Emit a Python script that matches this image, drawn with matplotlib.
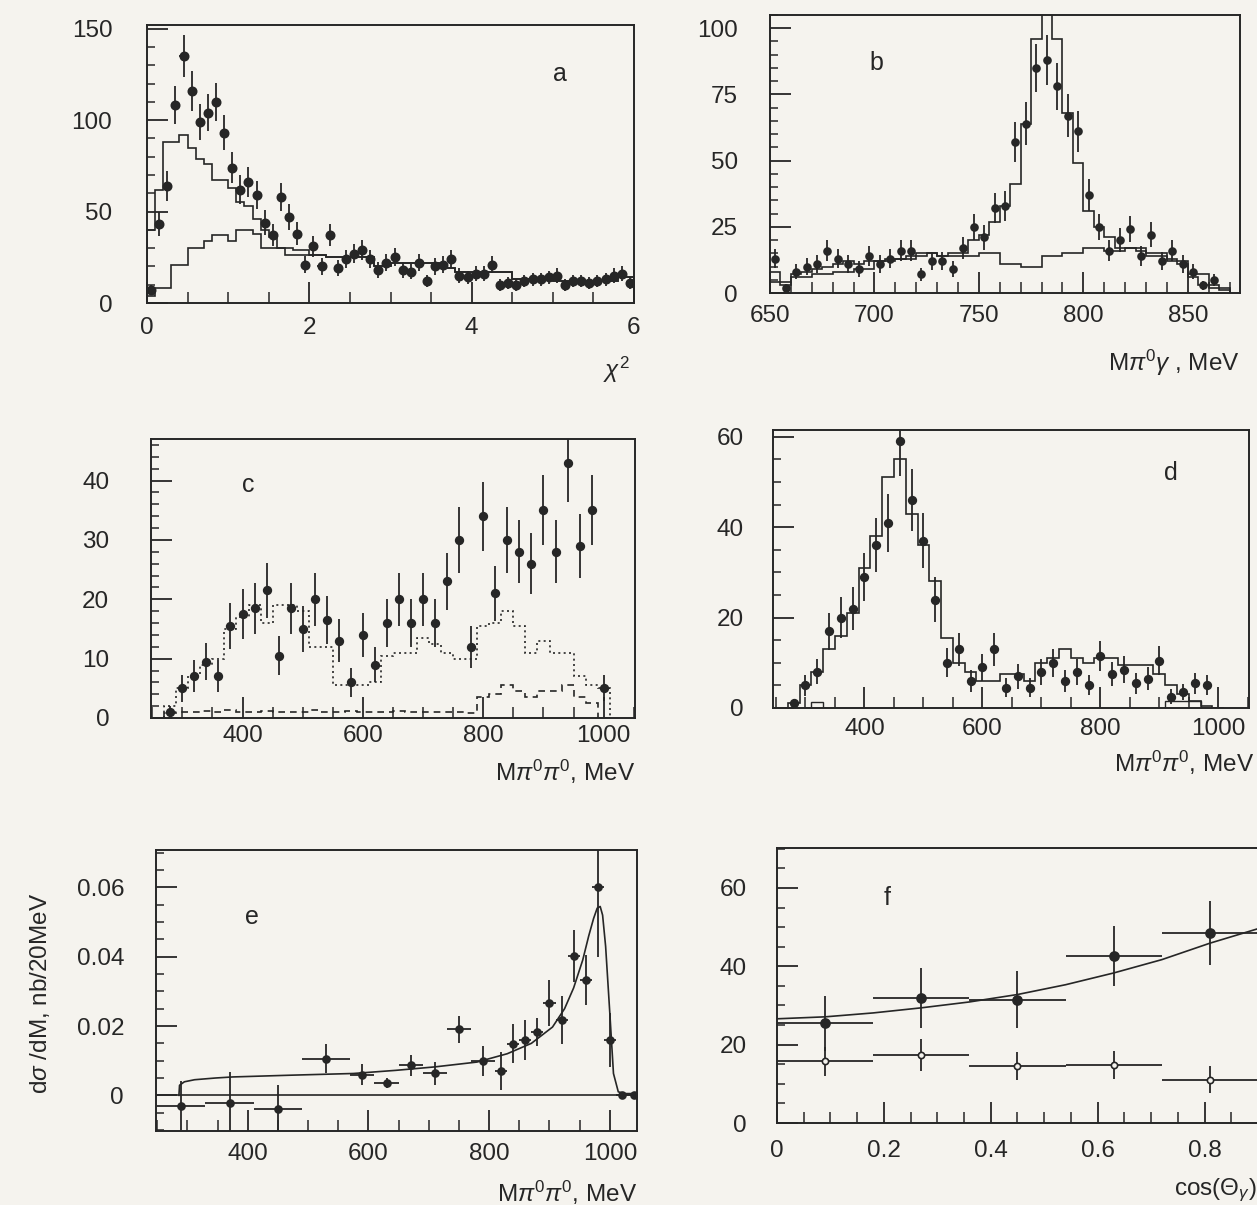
import numpy as np
import matplotlib.pyplot as plt
from matplotlib.ticker import MultipleLocator, FuncFormatter

plt.rcParams['font.family'] = ['Liberation Sans', 'DejaVu Sans']
plt.rcParams['mathtext.fontset'] = 'custom'
plt.rcParams['mathtext.rm'] = 'Liberation Sans'
plt.rcParams['mathtext.it'] = 'Liberation Sans:italic'

INK = '#262626'
PAPER = '#f5f3ee'

# ---- (a) chi^2 distribution, 0.1 bins
a_width = 0.1
a_counts = [7, 43, 64, 108, 135, 116, 99, 104, 110, 93, 74, 62, 66, 59, 44, 37, 58, 47, 38, 21,
            31, 20, 37, 19, 24, 27, 29, 24, 18, 22, 25, 18, 17, 22, 12, 20, 21, 24, 15, 14,
            16, 16, 21, 10, 11, 10, 12, 13, 13, 14, 15, 10, 12, 12, 11, 12, 13, 15, 16, 11]
a_err = [2.6, 6.6, 8, 10.4, 11.6, 10.8, 9.9, 10.2, 10.5, 9.6, 8.6, 7.9, 8.1, 7.7, 6.6, 6.1, 7.6, 6.9, 6.2, 4.6,
         5.6, 4.5, 6.1, 4.4, 4.9, 5.2, 5.4, 4.9, 4.2, 4.7, 5, 4.2, 4.1, 4.7, 3.5, 4.5, 4.6, 4.9, 3.9, 3.7,
         4, 4, 4.6, 3.2, 3.3, 3.2, 3.5, 3.6, 3.6, 3.7, 3.9, 3.2, 3.5, 3.5, 3.3, 3.5, 3.6, 3.9, 4, 3.3]
a_mc_edges = [0, 0.1, 0.2, 0.3, 0.4, 0.5, 0.6, 0.7, 0.8, 0.9, 1.0, 1.1, 1.2, 1.3, 1.4, 1.5, 1.6, 1.7, 1.8,
              2.0, 2.2, 2.8, 3.0, 3.6, 3.8, 4.5, 5.0, 5.8, 6.0]
a_mc = [40, 62, 88, 88, 92, 85, 79, 76, 67, 67, 63, 55, 53, 46, 40, 36, 30, 30, 29, 26,
        25, 20, 22, 19, 17, 13, 12, 14]
a_bg_edges = [0, 0.1, 0.3, 0.5, 0.7, 0.8, 1.0, 1.1, 1.3, 1.4, 1.7, 2.2, 2.8, 3.0, 3.6, 3.8, 4.5,
              5.0, 5.8, 6.0]
a_bg = [4, 8, 21, 30, 34, 37, 34, 40, 38, 30, 26, 25, 20, 22, 19, 17, 13, 12, 14]

# ---- (b) M(pi0 gamma), 5 MeV bins
b_start, b_width = 650, 5
b_counts = [13, 2, 8, 10, 11, 16, 13, 11, 9, 14, 11, 13, 16, 16, 7, 12, 12, 9, 17, 25,
            21, 32, 33, 57, 64, 85, 88, 78, 67, 61, 37, 25, 16, 20, 24, 14, 22, 12, 16, 11,
            8, 3, 5]
b_err = [3.6, 1.4, 2.8, 3.2, 3.3, 4, 3.6, 3.3, 3, 3.7, 3.3, 3.6, 4, 4, 2.6, 3.5, 3.5, 3, 4.1, 5,
         4.6, 5.7, 5.7, 7.5, 8, 9.2, 9.4, 8.8, 8.2, 7.8, 6.1, 5, 4, 4.5, 4.9, 3.7, 4.7, 3.5, 4, 3.3,
         2.8, 1.7, 2.2]
b_mc = [8, 3, 7, 8, 9, 10, 11, 12, 11, 12, 12, 13, 13, 14, 14, 15, 14, 15, 15, 20,
        22, 27, 33, 41, 64, 96, 108, 96, 68, 49, 31, 25, 21, 17, 17, 16, 14, 14, 13, 11,
        6, 3, 3, 1]
b_bg_width = 10
b_bg = [4, 6, 7, 8, 9, 12, 13, 15, 14, 14, 15, 11, 10, 14, 15, 17, 16, 17, 15, 12, 7, 2]

# ---- (c) M(pi0 pi0), 20 MeV bins centred 280..1000
c_start, c_width = 270, 20
c_counts = [1, 5, 7, 9.5, 7, 15.5, 17.5, 18.5, 21.5, 10.5, 18.5, 15, 20, 16.5, 13, 6, 14, 9, 16, 20,
            16, 20, 16, 23, 30, 12, 34, 21, 30, 28, 26, 35, 28, 43, 29, 35, 5]
c_err = [1, 2.3, 2.7, 3.1, 2.7, 3.9, 4.2, 4.3, 4.6, 3.3, 4.3, 3.9, 4.5, 4.1, 3.6, 2.4, 3.7, 3, 4, 4.5,
         4, 4.5, 4, 4.8, 5.5, 3.5, 5.8, 4.6, 5.5, 5.3, 5.1, 5.9, 5.3, 6.6, 5.4, 5.9, 2.2]
c_dotted = [2, 5, 7, 9, 10, 15, 17, 19, 16, 19, 19, 18, 12, 12, 5.5, 5.5, 5.5, 6, 10.5, 11,
            11, 13.5, 12.5, 11, 10, 10, 15.5, 16, 18, 15.5, 11, 13, 11, 11, 7, 5.5, 5]
c_dashed = [0.8, 1, 1, 1.2, 1, 1.3, 1, 1, 1.2, 1, 1, 1, 1.3, 1, 1, 1.2, 1, 1, 1, 1.2,
            1, 1, 1, 1, 1, 0.8, 3.5, 4, 5.5, 4.5, 3.5, 4.5, 4.5, 5.5, 3.5, 2.5, 0]

# ---- (d) M(pi0 pi0), 20 MeV bins centred 280..980
d_start, d_width = 270, 20
d_counts = [1, 5, 8, 17, 20, 22, 29, 36, 41, 59, 46, 37, 24, 10, 13, 6, 9, 13, 4.5, 7,
            4.5, 8, 10, 6, 8, 5, 11.5, 7.5, 8.5, 5.5, 6.5, 10.5, 2.5, 3.5, 5.5, 5]
d_err = [1, 2.3, 2.8, 4.1, 4.5, 4.7, 5.4, 6, 6.4, 7.7, 6.8, 6.1, 4.9, 3.2, 3.7, 2.5, 3, 3.7, 2.1, 2.7,
         2.1, 2.9, 3.1, 2.5, 2.9, 2.2, 3.4, 2.7, 2.9, 2.3, 2.6, 3.3, 1.6, 1.8, 2.3, 2.2]
d_mc = [1, 5, 8, 13, 16, 21, 31, 38, 51, 55, 43, 36, 28, 15.5, 10, 8, 6, 6, 7.5, 7.5,
        6, 10, 11, 13, 11, 10, 11, 11, 9.5, 9.5, 9.5, 7.5, 5, 3, 1.5, 0.5, 0]
d_bg = [0, 0, 1.3, 0, 0, 0, 0, 0, 0, 0, 0, 0, 0, 0, 0, 0, 0, 0, 0, 0,
        0, 0, 0, 0, 0, 0, 0, 0, 0, 0, 0, 0, 1.5, 1.5, 1.5, 0, 0]

# ---- (e) d sigma / dM
e_x = [290, 370, 450, 530, 590, 630, 670, 710, 750, 790, 820, 840, 860, 880, 900, 920, 940, 960,
       980, 1000, 1020, 1040]
e_xerr = [40, 40, 40, 40, 20, 20, 20, 20, 20, 20, 10, 10, 10, 10, 10, 10, 10, 10, 10, 10, 10, 10]
e_y = [-0.003, -0.0022, -0.0039, 0.0106, 0.006, 0.0036, 0.0087, 0.0063, 0.019, 0.0098, 0.007,
       0.0149, 0.0159, 0.0183, 0.0267, 0.0217, 0.0402, 0.0332, 0.060, 0.0161, 0.0, 0.0]
e_yerr = [0.007, 0.009, 0.007, 0.0043, 0.003, 0.0015, 0.003, 0.0033, 0.004, 0.0043, 0.0055,
          0.0057, 0.0058, 0.004, 0.0067, 0.007, 0.0075, 0.0072, 0.02, 0.0078, 0, 0]
e_fit_x = [286, 287, 295, 312, 347, 375, 470, 575, 645, 710, 780, 830, 870, 905, 925, 940, 955, 965,
           973, 979, 984, 988, 993, 1000, 1006, 1014, 1025, 1045]
e_fit_y = [0, 0.0029, 0.0039, 0.0045, 0.005, 0.0053, 0.0058, 0.0063, 0.0072, 0.0082, 0.0096, 0.012,
           0.015, 0.0197, 0.025, 0.031, 0.039, 0.046, 0.051, 0.054, 0.0545, 0.052, 0.043, 0.0236,
           0.0063, 0.001, 0.0005, 0.0005]

# ---- (f) photon angular distribution
f_x = [0.09, 0.27, 0.45, 0.63, 0.81]
f_xerr = 0.09
f_sig = [25.5, 31.9, 31.5, 42.6, 48.5]
f_sig_err = [7, 7.7, 7.2, 7.7, 8.1]
f_bkg = [15.7, 17.4, 14.6, 14.9, 11.1]
f_bkg_err = [3.6, 4, 3.6, 3.6, 3.4]
f_fit_x = [0, 0.09, 0.18, 0.27, 0.36, 0.45, 0.54, 0.63, 0.72, 0.81, 0.9]
f_fit_y = [26.6, 27.1, 28.1, 29.4, 30.9, 32.8, 35.3, 38.3, 41.7, 45.9, 49.6]


W, H = 1257, 1205
fig = plt.figure(figsize=(W / 100, H / 100), dpi=100, facecolor=PAPER)


def panel(l, t, r, b):
    ax = fig.add_axes([l / W, 1 - b / H, (r - l) / W, (b - t) / H])
    ax.set_facecolor(PAPER)
    return ax


def style(ax, xlim, ylim, xmaj, xmin, ymaj, ymin, ypad, xpad):
    ax.set_xlim(*xlim)
    ax.set_ylim(*ylim)
    ax.xaxis.set_major_locator(MultipleLocator(xmaj))
    ax.xaxis.set_minor_locator(MultipleLocator(xmin))
    ax.yaxis.set_major_locator(MultipleLocator(ymaj))
    ax.yaxis.set_minor_locator(MultipleLocator(ymin))
    fmt = FuncFormatter(lambda v, p: '0' if abs(v) < 1e-9 else '%g' % round(v, 4))
    ax.xaxis.set_major_formatter(fmt)
    ax.yaxis.set_major_formatter(fmt)
    ax.tick_params(which='both', direction='in', top=False, right=False,
                   colors=INK, labelsize=17.5)
    ax.tick_params(which='major', length=15, width=1.3)
    ax.tick_params(which='minor', length=6, width=1.1)
    ax.tick_params(axis='x', which='minor', length=8)
    ax.tick_params(axis='y', pad=ypad)
    ax.tick_params(axis='x', pad=xpad)
    for s in ax.spines.values():
        s.set_linewidth(1.4)
        s.set_color(INK)


def xlabel(ax, text, x, y):
    ax.text(x, y, text, transform=ax.transAxes, ha='right', va='center',
            fontsize=17.5, color=INK)


def points(ax, x, y, yerr, xerr=None, ms=5.5, filled=True):
    ax.errorbar(x, y, yerr=yerr, xerr=xerr, fmt='o', ms=ms, color=INK,
                mfc=INK if filled else PAPER, mec=INK, mew=1.2,
                elinewidth=1.3, capsize=0, zorder=3)


# (a)
ax = panel(147, 25, 634, 303)
style(ax, (0, 6), (0, 152), 2, 0.5, 50, 10, 25, 10)
ax.stairs(a_mc, a_mc_edges, color=INK, lw=1.2)
ax.stairs(a_bg, a_bg_edges, color=INK, lw=1.2)
a_x = np.arange(len(a_counts)) * a_width + a_width / 2
points(ax, a_x, a_counts, a_err, xerr=a_width / 2, ms=6)
ax.text(5.09, 125, 'a', fontsize=18, color=INK, ha='center', va='center')
xlabel(ax, r'$\chi^2$', 0.992, -0.241)

# (b)
ax = panel(770, 15, 1240, 293)
style(ax, (650, 875), (0, 105), 50, 10, 25, 5, 23, 9)
b_edges = b_start + np.arange(len(b_mc) + 1) * b_width
ax.stairs(b_mc, b_edges, color=INK, lw=1.2)
b_bg_edges = b_start + np.arange(len(b_bg) + 1) * b_bg_width
ax.stairs(b_bg, b_bg_edges, color=INK, lw=1.2)
b_x = b_start + np.arange(len(b_counts)) * b_width + b_width / 2
points(ax, b_x, b_counts, b_err, ms=5)
ax.text(701, 86.8, 'b', fontsize=18, color=INK, ha='center', va='center')
xlabel(ax, r'M$\pi^0\gamma$ , MeV', 1.0, -0.252)

# (c)
ax = panel(151, 439, 635, 718)
style(ax, (248, 1052), (0, 47), 200, 50, 10, 2, 30, 5)
c_edges = c_start + np.arange(len(c_dotted) + 1) * c_width
ax.stairs(c_dotted, c_edges, color=INK, lw=1.2, ls=(0, (1.2, 2)))
ax.stairs(c_dashed, c_edges, color=INK, lw=1.2, ls=(0, (4, 3)))
c_x = c_start + np.arange(len(c_counts)) * c_width + c_width / 2
points(ax, c_x, c_counts, c_err, ms=5.5)
ax.text(410, 39.2, 'c', fontsize=18, color=INK, ha='center', va='center')
xlabel(ax, r'M$\pi^0\pi^0$, MeV', 1.0, -0.194)

# (d)
ax = panel(773, 430, 1249, 708)
style(ax, (245, 1052), (0, 61.5), 200, 50, 20, 5, 21, 7)
d_edges = d_start + np.arange(len(d_mc) + 1) * d_width
ax.stairs(d_mc, d_edges, color=INK, lw=1.2)
ax.stairs(d_bg, d_edges, color=INK, lw=1.0)
d_x = d_start + np.arange(len(d_counts)) * d_width + d_width / 2
points(ax, d_x, d_counts, d_err, ms=5.5)
ax.text(920, 52, 'd', fontsize=18, color=INK, ha='center', va='center')
xlabel(ax, r'M$\pi^0\pi^0$, MeV', 1.01, -0.198)

# (e)
ax = panel(156, 850, 637, 1131)
style(ax, (248, 1045), (-0.0103, 0.0708), 200, 50, 0.02, 0.005, 23, 9)
ax.axhline(0, color=INK, lw=1.2)
ax.plot(e_fit_x, e_fit_y, color=INK, lw=1.2)
points(ax, e_x, e_y, e_yerr, xerr=e_xerr, ms=5)
ax.text(407, 0.0515, 'e', fontsize=18, color=INK, ha='center', va='center')
xlabel(ax, r'M$\pi^0\pi^0$, MeV', 1.0, -0.221)
ax.text(-0.241, 0.49, r'd$\sigma$ /dM, nb/20MeV', transform=ax.transAxes, rotation=90,
        ha='center', va='center', fontsize=17.5, color=INK)

# (f)
ax = panel(777, 848, 1258, 1123)
style(ax, (0, 0.9), (0, 70.2), 0.2, 0.05, 20, 5, 22, 12)
ax.plot(f_fit_x, f_fit_y, color=INK, lw=1.2)
points(ax, f_x, f_sig, f_sig_err, xerr=f_xerr, ms=6.5)
points(ax, f_x, f_bkg, f_bkg_err, xerr=f_xerr, ms=4.5, filled=False)
ax.text(0.206, 57.4, 'f', fontsize=18, color=INK, ha='center', va='center')
xlabel(ax, r'cos($\Theta_\gamma$)', 0.998, -0.244)

fig.savefig('out.png', dpi=100, facecolor=PAPER)
